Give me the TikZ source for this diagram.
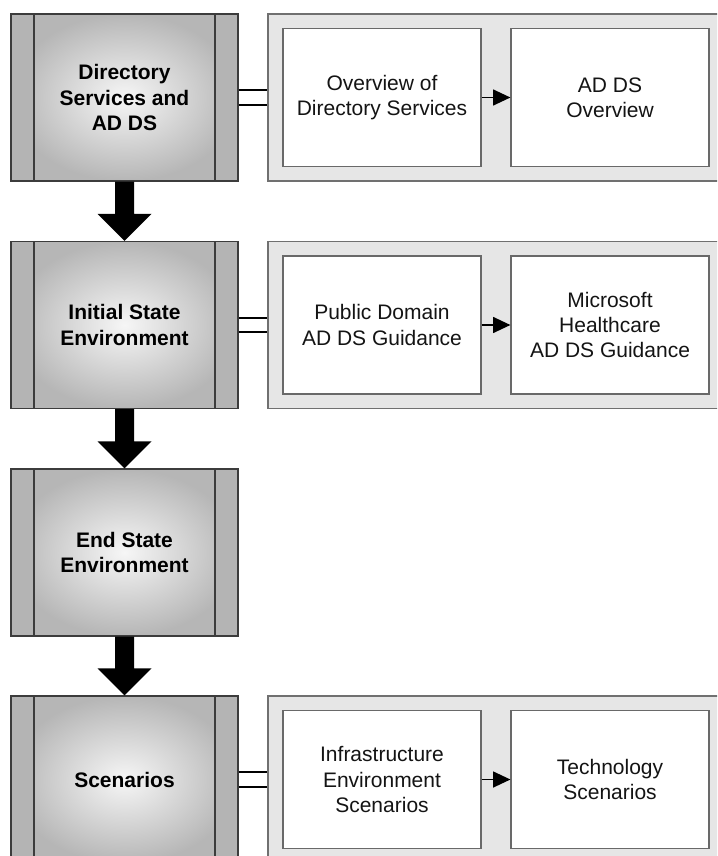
\documentclass[tikz,border=0pt]{standalone}
\usepackage{fontspec}
\setmainfont{Liberation Sans}
\usetikzlibrary{calc,arrows.meta}

\definecolor{stripgray}{RGB}{180,180,180}
\definecolor{coreout}{RGB}{182,182,182}
\definecolor{corein}{RGB}{246,246,246}
\definecolor{panelfill}{RGB}{230,230,230}
\definecolor{panelline}{RGB}{112,112,112}
\definecolor{boxline}{RGB}{105,105,105}
\definecolor{edgeline}{RGB}{60,60,60}

\tikzset{
  phase/.style={draw=edgeline, line width=0.9pt, fill=stripgray,
    minimum width=170.25pt, minimum height=125.25pt, inner sep=0pt,
    align=center, font=\bfseries\fontsize{15.75}{19}\selectfont,
    path picture={
      \shade[inner color=corein, outer color=coreout]
        ([xshift=17.25pt]path picture bounding box.north west) rectangle
        ([xshift=-17.25pt]path picture bounding box.south east);
      \draw[edgeline, line width=0.9pt]
        ([xshift=17.25pt]path picture bounding box.north west) --
        ([xshift=17.25pt]path picture bounding box.south west);
      \draw[edgeline, line width=0.9pt]
        ([xshift=-17.25pt]path picture bounding box.north east) --
        ([xshift=-17.25pt]path picture bounding box.south east);
    }},
  panel/.style={draw=panelline, fill=panelfill, line width=0.9pt,
    minimum width=342.75pt, minimum height=125.25pt, inner sep=0pt},
  topic/.style={draw=boxline, fill=white, line width=0.9pt,
    minimum width=148.5pt, minimum height=103.5pt, inner sep=0pt,
    align=center, font=\fontsize{15.75}{19}\selectfont, text=black!92},
  link/.style={line width=1.5pt},
  flow/.style={line width=1.1pt, -{Triangle[length=13pt,width=12pt]}}
}

% thick block arrow from the bottom of one phase to the top of the next
\newcommand{\blockarrow}[2]{%
  \fill let \p1=(#1.south), \p2=(#2.north) in
    (\x1-7.125pt,\y1) -- (\x1-7.125pt,\y2+20.25pt) -- (\x1-20.25pt,\y2+20.25pt)
    -- (\x1,\y2) -- (\x1+20.25pt,\y2+20.25pt) -- (\x1+7.125pt,\y2+20.25pt)
    -- (\x1+7.125pt,\y1) -- cycle;}

\begin{document}
\begin{tikzpicture}[x=0.75pt, y=-0.75pt]
  \useasboundingbox (0,0) rectangle (717,856);
  \fill[white] (0,0) rectangle (717,856);
  \clip (0,0) rectangle (717,856);

  % phases on the left
  \node[phase] (L1) at (124.5,97.5) {Directory\\Services and\\AD DS};
  \node[phase] (L2) at (124.5,325) {Initial State\\Environment};
  \node[phase] (L3) at (124.5,552.5) {End State\\Environment};
  \node[phase] (L4) at (124.5,779.5) {Scenarios};

  % detail panels
  \node[panel] (P1) at (496.5,97.5) {};
  \node[panel] (P2) at (496.5,325) {};
  \node[panel] (P4) at (496.5,779.5) {};

  \node[topic] (A1) at (382,97.5) {Overview of\\Directory Services};
  \node[topic] (B1) at (610,97.5) {AD DS\\Overview};
  \node[topic] (A2) at (382,325) {Public Domain\\AD DS Guidance};
  \node[topic] (B2) at (610,325) {Microsoft\\Healthcare\\AD DS Guidance};
  \node[topic] (A4) at (382,779.5) {Infrastructure\\Environment\\Scenarios};
  \node[topic] (B4) at (610,779.5) {Technology\\Scenarios};

  % links from phases to panels
  \foreach \l/\p in {L1/P1, L2/P2, L4/P4} {
    \draw[link] ([yshift=5.6pt]\l.east) -- ([yshift=5.6pt]\p.west);
    \draw[link] ([yshift=-5.6pt]\l.east) -- ([yshift=-5.6pt]\p.west);
  }

  % flow inside panels
  \draw[flow] (A1) -- (B1);
  \draw[flow] (A2) -- (B2);
  \draw[flow] (A4) -- (B4);

  % phase sequence
  \blockarrow{L1}{L2}
  \blockarrow{L2}{L3}
  \blockarrow{L3}{L4}
\end{tikzpicture}
\end{document}
